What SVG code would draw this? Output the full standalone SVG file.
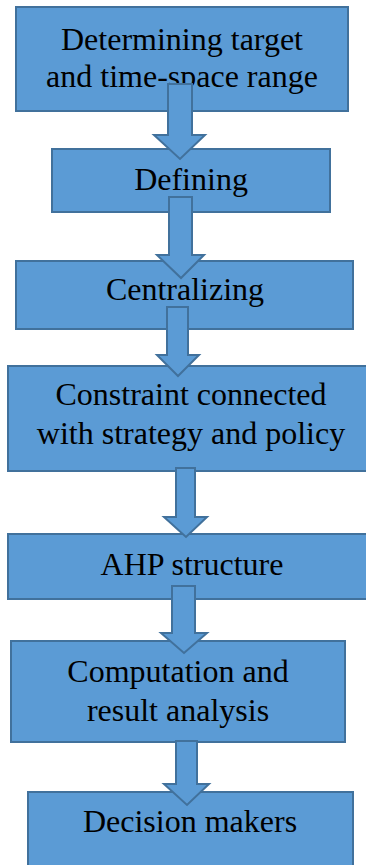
<svg xmlns="http://www.w3.org/2000/svg" width="366" height="865" viewBox="0 0 366 865">
<style>
.box{fill:#5b9bd5;stroke:#41719c;stroke-width:2}
.arr{fill:#5b9bd5;stroke:#41719c;stroke-width:2;stroke-linejoin:miter}
text{font-family:"Liberation Serif","Times New Roman",serif;font-size:32px;fill:#000;text-anchor:middle}
</style>
<rect width="366" height="865" fill="#fff"/>
<g id="n1"><rect class="box" x="16" y="7" width="332" height="104"/><text x="182" y="50">Determining target</text><text x="182" y="87">and time-space range</text></g>
<g id="n2"><rect class="box" x="52" y="149" width="278" height="63"/><text x="191" y="190">Defining</text></g>
<g id="n3"><rect class="box" x="16" y="261" width="337" height="68"/><text x="185" y="300">Centralizing</text></g>
<g id="n4"><rect class="box" x="8" y="366" width="366" height="105"/><text x="191" y="405">Constraint connected</text><text x="191" y="444">with strategy and policy</text></g>
<g id="n5"><rect class="box" x="8" y="534" width="368" height="65"/><text x="192" y="575">AHP structure</text></g>
<g id="n6"><rect class="box" x="11" y="641" width="334" height="101"/><text x="178" y="682">Computation and</text><text x="178" y="721">result analysis</text></g>
<g id="n7"><rect class="box" x="28" y="792" width="325" height="80"/><text x="190" y="832">Decision makers</text></g>
<g id="connectors">
<polygon class="arr" points="168,84 192,84 192,135 205,135 180,159 154,135 168,135"/>
<polygon class="arr" points="169,197 192,197 192,255 204,255 181,278 157,255 169,255"/>
<polygon class="arr" points="167,307 188,307 188,355 199,355 178,376 157,355 167,355"/>
<polygon class="arr" points="176,468 195,468 195,517 207,517 186,537 164,517 176,517"/>
<polygon class="arr" points="172,586 195,586 195,633 207,633 184,653 161,633 172,633"/>
<polygon class="arr" points="176,741 197,741 197,784 209,784 187,805 164,784 176,784"/>
</g>
</svg>
